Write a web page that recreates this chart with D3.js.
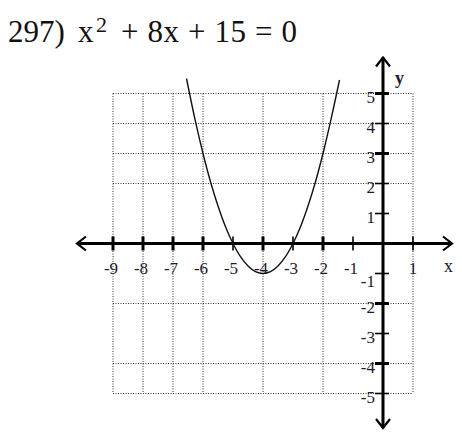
<!DOCTYPE html>
<html><head><meta charset="utf-8">
<script src="https://cdn.jsdelivr.net/npm/d3@7"></script>
<style>html,body{margin:0;padding:0;background:#fff;}svg{display:block;}</style>
</head><body>
<script>
// ---- data ----
const xTicks = [-9,-8,-7,-6,-5,-4,-3,-2,-1,1];
const yTicks = [5,4,3,2,1,-1,-2,-3,-4,-5];
const xTickLabels = ["-9","-8","-7","-6","-5","-4","-3","-2","-1","1"];
const yTickLabels = ["5","4","3","2","1","-1","-2","-3","-4","-5"];
const xMajor = [-9,-8,-7,-6,-4,-2];
const yMajor = [5,3,-2,-4];
const gridX = [-9,-8,-7,-6,-4,-2,1];
const gridY = [5,4,3,2,-2,-4,-5];
const curveX = [-6.55,-6.25,-6,-5.75,-5.5,-5.25,-5,-4.75,-4.5,-4.25,-4,-3.75,-3.5,-3.25,-3,-2.75,-2.5,-2.25,-2,-1.75,-1.45];
const curveY = [5.5,4.06,3,2.06,1.25,0.56,0,-0.44,-0.75,-0.94,-1,-0.94,-0.75,-0.44,0,0.56,1.25,2.06,3,4.06,5.45];
const titleParts = ["297)", "x", "2", "+ 8x + 15 = 0"];

const W = 462, H = 437;
const svg = d3.select("body").append("svg").attr("width", W).attr("height", H);

const x = d3.scaleLinear().domain([-9, 1]).range([113, 413]);
const y = d3.scaleLinear().domain([-5, 5]).range([393.5, 93.5]);

// title
const tf = "'Liberation Serif','Times New Roman',serif";
svg.append("text").attr("x", 8).attr("y", 42).attr("font-family", tf).attr("font-size", 31).attr("fill", "#111").text(titleParts[0]);
svg.append("text").attr("x", 78).attr("y", 42).attr("font-family", tf).attr("font-size", 31).attr("fill", "#111").attr("textLength", 20).text(titleParts[1]);
svg.append("text").attr("x", 96).attr("y", 32).attr("font-family", tf).attr("font-size", 22).attr("fill", "#111").text(titleParts[2]);
svg.append("text").attr("x", 121).attr("y", 42).attr("font-family", tf).attr("font-size", 31).attr("fill", "#111")
  .attr("textLength", 176).attr("lengthAdjust", "spacing").text(titleParts[3]);

// grid (dotted)
const g = svg.append("g").attr("stroke", "#333").attr("stroke-width", 1).attr("stroke-dasharray", "1,1.5").attr("fill", "none");
g.selectAll("line.v").data(gridX).join("line").attr("class","v")
  .attr("x1", d => x(d)).attr("x2", d => x(d)).attr("y1", y(5)).attr("y2", y(-5));
g.selectAll("line.h").data(gridY).join("line").attr("class","h")
  .attr("y1", d => y(d)).attr("y2", d => y(d)).attr("x1", x(-9)).attr("x2", x(1));

// axes
const ax = svg.append("g").attr("stroke", "#000").attr("fill", "none");
const xmin = -10.2, xmax = 2.3, ymin = -6.15, ymax = 6.2;
ax.append("line").attr("x1", x(xmin)).attr("x2", x(xmax)).attr("y1", y(0)).attr("y2", y(0)).attr("stroke-width", 3);
ax.append("line").attr("y1", y(ymin)).attr("y2", y(ymax)).attr("x1", x(0)).attr("x2", x(0)).attr("stroke-width", 3);
const ah = 9, aw = 7;
ax.append("path").attr("stroke-width", 2.2).attr("d",
  `M${x(xmin)+ah},${y(0)-aw} L${x(xmin)},${y(0)} L${x(xmin)+ah},${y(0)+aw}` +
  `M${x(xmax)-ah},${y(0)-aw} L${x(xmax)},${y(0)} L${x(xmax)-ah},${y(0)+aw}` +
  `M${x(0)-aw},${y(ymax)+ah} L${x(0)},${y(ymax)} L${x(0)+aw},${y(ymax)+ah}` +
  `M${x(0)-aw},${y(ymin)-ah} L${x(0)},${y(ymin)} L${x(0)+aw},${y(ymin)-ah}`);

// ticks
ax.selectAll("line.xt").data(xTicks).join("line").attr("class","xt")
  .attr("x1", d => x(d)).attr("x2", d => x(d)).attr("y1", y(0)-7).attr("y2", y(0)+7)
  .attr("stroke-width", d => xMajor.includes(d) ? 3 : 1.6);
ax.selectAll("line.yt").data(yTicks).join("line").attr("class","yt")
  .attr("y1", d => y(d)).attr("y2", d => y(d)).attr("x1", x(0)-8).attr("x2", x(0)+6)
  .attr("stroke-width", d => yMajor.includes(d) ? 3 : 1.6);

// tick labels
const lf = "'Liberation Serif','Times New Roman',serif";
svg.selectAll("text.xl").data(xTicks).join("text").attr("class","xl")
  .attr("x", d => x(d) - (d < 0 ? 2 : 0)).attr("y", y(0) + 30)
  .attr("text-anchor", "middle").attr("font-family", lf).attr("font-size", 17).attr("fill", "#1a1a2e")
  .text((d,i) => xTickLabels[i]);
svg.selectAll("text.yl").data(yTicks).join("text").attr("class","yl")
  .attr("x", x(0) - 8).attr("y", d => y(d) + 9 + (d === -1 ? 4 : 0))
  .attr("text-anchor", "end").attr("font-family", lf).attr("font-size", 17).attr("fill", "#1a1a2e")
  .text((d,i) => yTickLabels[i]);
svg.append("text").attr("x", x(0) + 12).attr("y", y(ymax) + 26).attr("font-family", lf).attr("font-size", 18)
  .attr("font-weight", "bold").attr("fill", "#1a1a2e").text("y");
svg.append("text").attr("x", x(xmax) - 8).attr("y", y(0) + 28).attr("font-family", lf).attr("font-size", 18)
  .attr("fill", "#1a1a2e").text("x");

// parabola
const pts = curveX.map((v, i) => [v, curveY[i]]);
svg.append("path").datum(pts).attr("fill", "none").attr("stroke", "#111").attr("stroke-width", 1.4)
  .attr("d", d3.line().x(d => x(d[0])).y(d => y(d[1])).curve(d3.curveCatmullRom));
</script>
</body></html>
